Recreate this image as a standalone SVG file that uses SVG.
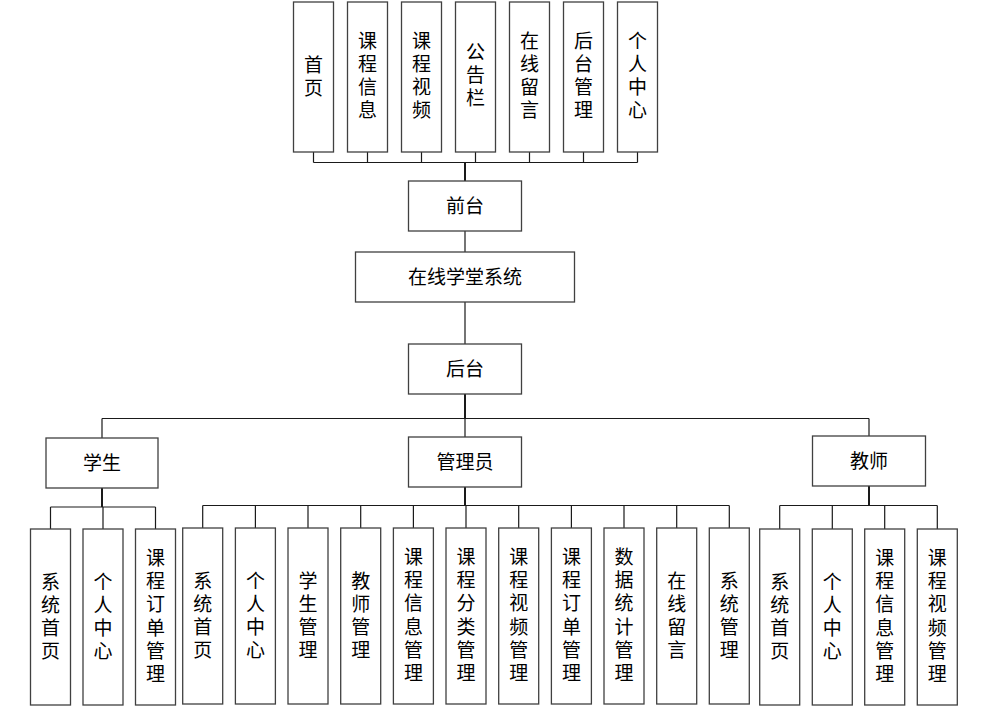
<svg xmlns="http://www.w3.org/2000/svg" width="982" height="716" viewBox="0 0 982 716">
<style>
.b{fill:#fff;stroke:#404040;stroke-width:1.3}
.t{font-family:"Liberation Sans","Noto Sans CJK SC",sans-serif;font-size:19px;fill:#000;text-anchor:middle;dominant-baseline:central}
.c{fill:none;stroke:#1a1a1a;stroke-width:1.2}
</style>
<rect width="982" height="716" fill="#fff"/>
<g id="connectors" class="c">
<path d="M313.5 152V162.5M367.5 152V162.5M421.5 152V162.5M475.5 152V162.5M529.5 152V162.5M583.5 152V162.5M637.5 152V162.5M313.5 162.5H637.5"/>
<path d="M465 162.5V181" stroke-width="2"/>
<path d="M465 231V252M465 302V344"/>
<path d="M465 394V418.5" stroke-width="2"/>
<path d="M102 418.5H869M102 418.5V438M465 418.5V437M869 418.5V436"/>
<path d="M102 488V507" stroke-width="2"/>
<path d="M50.5 507H155.5M50.5 507V529M103 507V529M155.5 507V529"/>
<path d="M465 487V505.5" stroke-width="2"/>
<path d="M202.7 505.5H729.3M202.7 505.5V528M255.4 505.5V528M308 505.5V528M360.7 505.5V528M413.4 505.5V528M466 505.5V528M518.7 505.5V528M571.4 505.5V528M624 505.5V528M676.7 505.5V528M729.3 505.5V528"/>
<path d="M869 486V505.5" stroke-width="2"/>
<path d="M779.7 505.5H937.3M779.7 505.5V529M832.3 505.5V529M884.7 505.5V529M937.3 505.5V529"/>
</g>
<g id="n_shouye"><rect class="b" x="293.5" y="2" width="40" height="150"/><text class="t"><tspan x="313.5" y="65">首</tspan><tspan x="313.5" y="88">页</tspan></text></g>
<g id="n_kcxx"><rect class="b" x="347.5" y="2" width="40" height="150"/><text class="t"><tspan x="367.5" y="41">课</tspan><tspan x="367.5" y="64">程</tspan><tspan x="367.5" y="87">信</tspan><tspan x="367.5" y="110">息</tspan></text></g>
<g id="n_kcsp"><rect class="b" x="401.5" y="2" width="40" height="150"/><text class="t"><tspan x="421.5" y="41">课</tspan><tspan x="421.5" y="64">程</tspan><tspan x="421.5" y="87">视</tspan><tspan x="421.5" y="110">频</tspan></text></g>
<g id="n_ggl"><rect class="b" x="455.5" y="2" width="40" height="150"/><text class="t"><tspan x="475.5" y="52">公</tspan><tspan x="475.5" y="75">告</tspan><tspan x="475.5" y="98">栏</tspan></text></g>
<g id="n_zxly"><rect class="b" x="509.5" y="2" width="40" height="150"/><text class="t"><tspan x="529.5" y="41">在</tspan><tspan x="529.5" y="64">线</tspan><tspan x="529.5" y="87">留</tspan><tspan x="529.5" y="110">言</tspan></text></g>
<g id="n_htgl"><rect class="b" x="563.5" y="2" width="40" height="150"/><text class="t"><tspan x="583.5" y="41">后</tspan><tspan x="583.5" y="64">台</tspan><tspan x="583.5" y="87">管</tspan><tspan x="583.5" y="110">理</tspan></text></g>
<g id="n_grzx"><rect class="b" x="617.5" y="2" width="40" height="150"/><text class="t"><tspan x="637.5" y="41">个</tspan><tspan x="637.5" y="64">人</tspan><tspan x="637.5" y="87">中</tspan><tspan x="637.5" y="110">心</tspan></text></g>
<g id="n_qiantai"><rect class="b" x="408.5" y="181" width="113" height="50"/><text class="t" x="465" y="206">前台</text></g>
<g id="n_system"><rect class="b" x="355.5" y="252" width="219" height="50"/><text class="t" x="465" y="277">在线学堂系统</text></g>
<g id="n_houtai"><rect class="b" x="408.5" y="344" width="113" height="50"/><text class="t" x="465" y="369">后台</text></g>
<g id="n_student"><rect class="b" x="46" y="438" width="112" height="50"/><text class="t" x="102" y="463">学生</text></g>
<g id="n_admin"><rect class="b" x="408.5" y="437" width="113" height="50"/><text class="t" x="465" y="462">管理员</text></g>
<g id="n_teacher"><rect class="b" x="812.5" y="436" width="113" height="50"/><text class="t" x="869" y="461">教师</text></g>
<g id="s1"><rect class="b" x="30.5" y="529" width="40" height="176"/><text class="t"><tspan x="50.5" y="582">系</tspan><tspan x="50.5" y="605">统</tspan><tspan x="50.5" y="628">首</tspan><tspan x="50.5" y="651">页</tspan></text></g>
<g id="s2"><rect class="b" x="83" y="529" width="40" height="176"/><text class="t"><tspan x="103" y="582">个</tspan><tspan x="103" y="605">人</tspan><tspan x="103" y="628">中</tspan><tspan x="103" y="651">心</tspan></text></g>
<g id="s3"><rect class="b" x="135.5" y="529" width="40" height="176"/><text class="t"><tspan x="155.5" y="558">课</tspan><tspan x="155.5" y="581">程</tspan><tspan x="155.5" y="604">订</tspan><tspan x="155.5" y="628">单</tspan><tspan x="155.5" y="651">管</tspan><tspan x="155.5" y="674">理</tspan></text></g>
<g id="a1"><rect class="b" x="182.7" y="528" width="40" height="176"/><text class="t"><tspan x="202.7" y="581">系</tspan><tspan x="202.7" y="604">统</tspan><tspan x="202.7" y="627">首</tspan><tspan x="202.7" y="650">页</tspan></text></g>
<g id="a2"><rect class="b" x="235.4" y="528" width="40" height="176"/><text class="t"><tspan x="255.4" y="581">个</tspan><tspan x="255.4" y="604">人</tspan><tspan x="255.4" y="627">中</tspan><tspan x="255.4" y="650">心</tspan></text></g>
<g id="a3"><rect class="b" x="288" y="528" width="40" height="176"/><text class="t"><tspan x="308" y="581">学</tspan><tspan x="308" y="604">生</tspan><tspan x="308" y="627">管</tspan><tspan x="308" y="650">理</tspan></text></g>
<g id="a4"><rect class="b" x="340.7" y="528" width="40" height="176"/><text class="t"><tspan x="360.7" y="581">教</tspan><tspan x="360.7" y="604">师</tspan><tspan x="360.7" y="627">管</tspan><tspan x="360.7" y="650">理</tspan></text></g>
<g id="a5"><rect class="b" x="393.4" y="528" width="40" height="176"/><text class="t"><tspan x="413.4" y="557">课</tspan><tspan x="413.4" y="580">程</tspan><tspan x="413.4" y="603">信</tspan><tspan x="413.4" y="627">息</tspan><tspan x="413.4" y="650">管</tspan><tspan x="413.4" y="673">理</tspan></text></g>
<g id="a6"><rect class="b" x="446" y="528" width="40" height="176"/><text class="t"><tspan x="466" y="557">课</tspan><tspan x="466" y="580">程</tspan><tspan x="466" y="603">分</tspan><tspan x="466" y="627">类</tspan><tspan x="466" y="650">管</tspan><tspan x="466" y="673">理</tspan></text></g>
<g id="a7"><rect class="b" x="498.7" y="528" width="40" height="176"/><text class="t"><tspan x="518.7" y="557">课</tspan><tspan x="518.7" y="580">程</tspan><tspan x="518.7" y="603">视</tspan><tspan x="518.7" y="627">频</tspan><tspan x="518.7" y="650">管</tspan><tspan x="518.7" y="673">理</tspan></text></g>
<g id="a8"><rect class="b" x="551.4" y="528" width="40" height="176"/><text class="t"><tspan x="571.4" y="557">课</tspan><tspan x="571.4" y="580">程</tspan><tspan x="571.4" y="603">订</tspan><tspan x="571.4" y="627">单</tspan><tspan x="571.4" y="650">管</tspan><tspan x="571.4" y="673">理</tspan></text></g>
<g id="a9"><rect class="b" x="604" y="528" width="40" height="176"/><text class="t"><tspan x="624" y="557">数</tspan><tspan x="624" y="580">据</tspan><tspan x="624" y="603">统</tspan><tspan x="624" y="627">计</tspan><tspan x="624" y="650">管</tspan><tspan x="624" y="673">理</tspan></text></g>
<g id="a10"><rect class="b" x="656.7" y="528" width="40" height="176"/><text class="t"><tspan x="676.7" y="581">在</tspan><tspan x="676.7" y="604">线</tspan><tspan x="676.7" y="627">留</tspan><tspan x="676.7" y="650">言</tspan></text></g>
<g id="a11"><rect class="b" x="709.3" y="528" width="40" height="176"/><text class="t"><tspan x="729.3" y="581">系</tspan><tspan x="729.3" y="604">统</tspan><tspan x="729.3" y="627">管</tspan><tspan x="729.3" y="650">理</tspan></text></g>
<g id="t1"><rect class="b" x="759.7" y="529" width="40" height="176"/><text class="t"><tspan x="779.7" y="582">系</tspan><tspan x="779.7" y="605">统</tspan><tspan x="779.7" y="628">首</tspan><tspan x="779.7" y="651">页</tspan></text></g>
<g id="t2"><rect class="b" x="812.3" y="529" width="40" height="176"/><text class="t"><tspan x="832.3" y="582">个</tspan><tspan x="832.3" y="605">人</tspan><tspan x="832.3" y="628">中</tspan><tspan x="832.3" y="651">心</tspan></text></g>
<g id="t3"><rect class="b" x="864.7" y="529" width="40" height="176"/><text class="t"><tspan x="884.7" y="558">课</tspan><tspan x="884.7" y="581">程</tspan><tspan x="884.7" y="604">信</tspan><tspan x="884.7" y="628">息</tspan><tspan x="884.7" y="651">管</tspan><tspan x="884.7" y="674">理</tspan></text></g>
<g id="t4"><rect class="b" x="917.3" y="529" width="40" height="176"/><text class="t"><tspan x="937.3" y="558">课</tspan><tspan x="937.3" y="581">程</tspan><tspan x="937.3" y="604">视</tspan><tspan x="937.3" y="628">频</tspan><tspan x="937.3" y="651">管</tspan><tspan x="937.3" y="674">理</tspan></text></g>
</svg>
